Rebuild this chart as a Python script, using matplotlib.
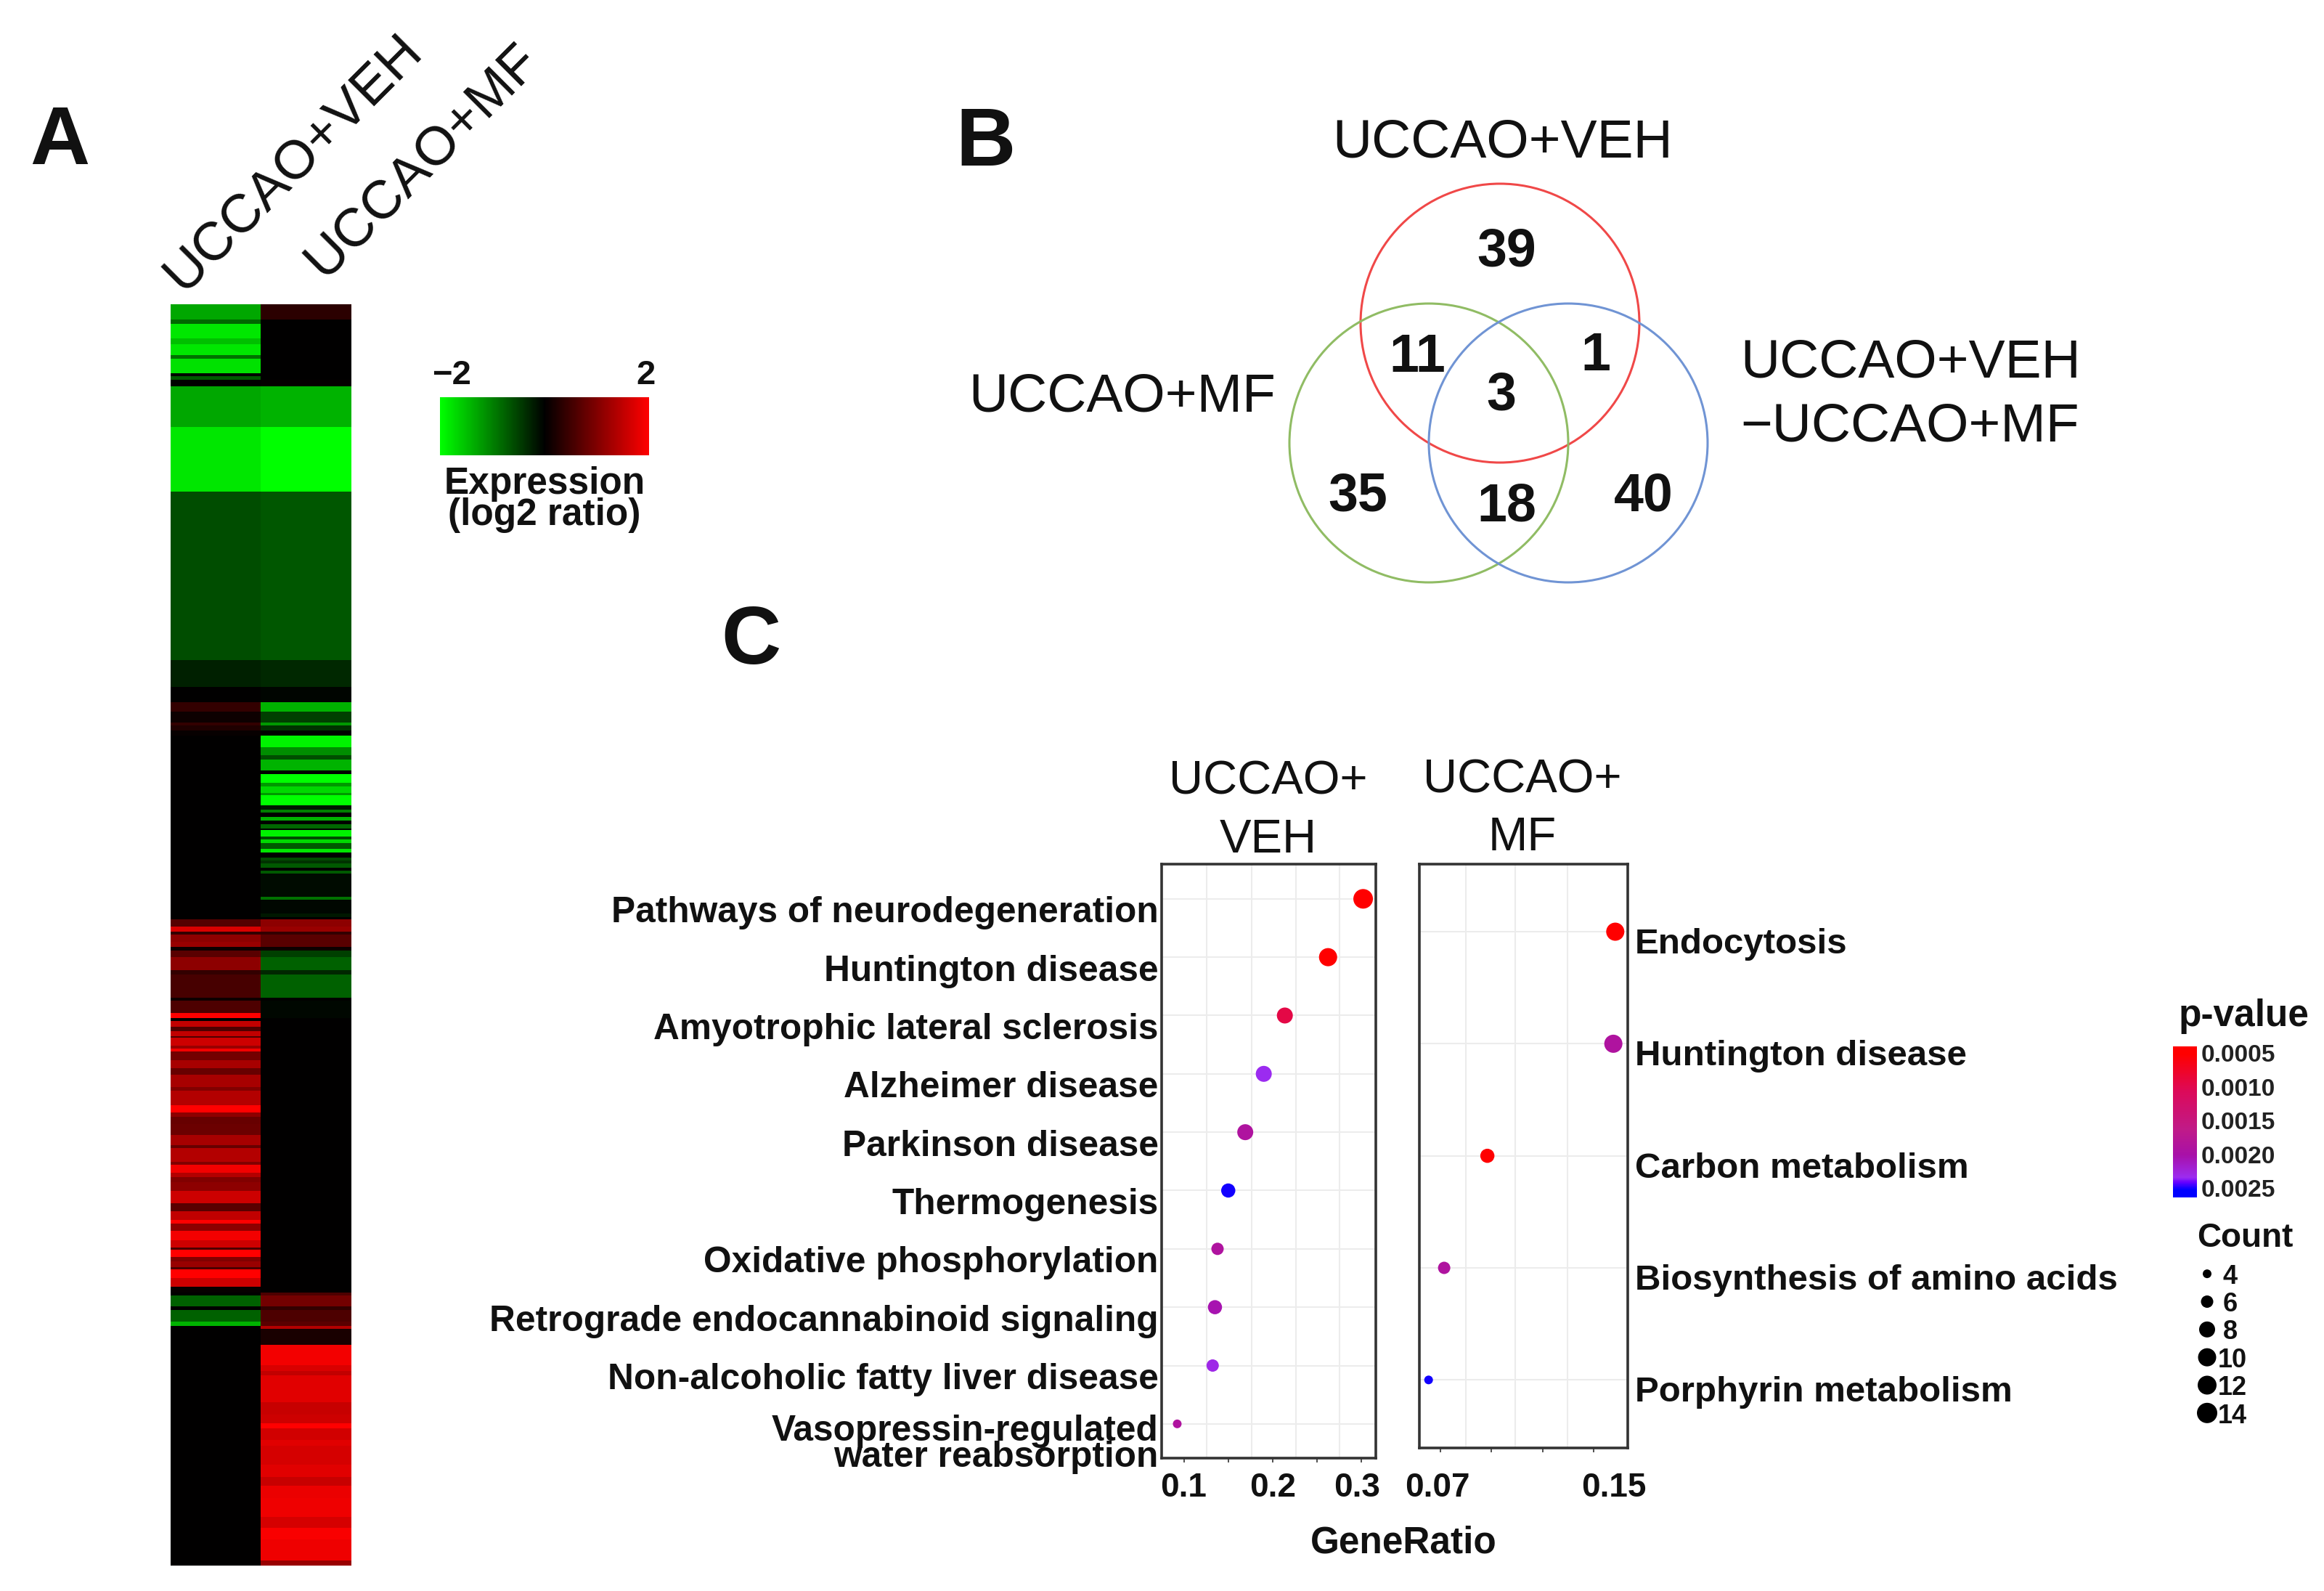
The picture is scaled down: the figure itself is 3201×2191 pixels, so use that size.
import numpy as np
import matplotlib
matplotlib.use('Agg')
import matplotlib.pyplot as plt
from matplotlib.colors import LinearSegmentedColormap, Normalize
from matplotlib.cm import ScalarMappable
from matplotlib.patches import Circle
from matplotlib.transforms import ScaledTranslation

plt.rcParams['font.family'] = ['Liberation Sans', 'DejaVu Sans']

W, H = 3201, 2191

# heatmap, read top to bottom: row count of each band, then log2 ratio / 2 per column
hm_runs = [37, 10, 35, 15, 25, 10, 35, 7, 8, 15, 98, 157, 405, 65, 37, 23, 25, 8, 12, 12, 28, 20, 10, 25, 10,
           20, 10, 15, 5, 25, 10, 8, 10, 8, 9, 10, 5, 15, 7, 8, 15, 8, 12, 7, 8, 10, 7, 8, 55, 8, 32, 10, 5,
           17, 13, 7, 16, 12, 10, 16, 30, 12, 55, 7, 30, 12, 8,
           13, 10, 13, 4, 18, 8, 7, 20, 20, 15, 30, 10, 15, 20, 17, 10, 18, 25, 25, 7, 33, 7, 20, 11, 12,
           20, 30, 20, 20, 10, 17, 23, 17, 5, 18, 10, 15, 5, 20, 22,
           13, 7, 26, 9, 28, 10, 7, 40, 48, 15, 10, 65, 30, 20, 12, 28, 15, 45, 30, 20, 30, 45, 27, 28, 50, 13]
hm_veh = [-.65, -.4, -.9, -.75, -.9, -.45, -.88, 0, -.35, 0, -.65, -.9, -.3, -.13, 0, .2, .05, .2, .12, .03, 0, 0, 0, 0, 0,
          0, 0, 0, 0, 0, 0, 0, 0, 0, 0, 0, 0, 0, 0, 0, 0, 0, 0, 0, 0, 0, 0, 0, 0, 0, 0, 0, 0,
          .33, .85, .2, .55, .6, .05, .35, .55, .2, .28, .05, .3, 1.0, 0,
          .75, .3, .75, .3, .8, .6, .95, .45, .65, .4, .65, .5, .7, .7, 1.0, .55, .4, .42, .65, .4, .7, .5, .95, .7, .5,
          .55, .8, .35, .75, 1.0, .55, .95, .8, .3, 1.0, .5, .6, .3, 1.0, .8,
          .03, 0, -.38, 0, -.38, -.7, 0, 0, 0, 0, 0, 0, 0, 0, 0, 0, 0, 0, 0, 0, 0, 0, 0, 0, 0, 0]
hm_mf = [.17, 0, 0, 0, 0, 0, 0, 0, 0, .02, -.7, -1.0, -.34, -.16, -.02, -.7, -.25, -.6, -.2, 0, -.95, -.55, -.3, -.7, 0,
         -1.0, -.6, -.85, -.6, -1.0, -.1, -.5, 0, -.7, 0, -.4, 0, -.95, -.3, -.85, -.35, -.9, 0, -.3, -.2, -.35, 0, -.35, -.04, -.45, -.03, -.1, 0,
         .55, .6, .2, .35, .35, .05, -.25, -.38, -.15, -.38, 0, -.03, -.03, 0,
         0, 0, 0, 0, 0, 0, 0, 0, 0, 0, 0, 0, 0, 0, 0, 0, 0, 0, 0, 0, 0, 0, 0, 0, 0,
         0, 0, 0, 0, 0, 0, 0, 0, 0, 0, 0, 0, 0, 0, 0,
         0, .3, .45, .2, .3, .35, .7, .1, .95, .85, .75, .88, .78, .8, 1.0, .82, .88, .83, .88, .78, .92, .93, .83, .97, .93, .6]

# venn
venn_names = ['UCCAO+VEH', 'UCCAO+MF', 'UCCAO+VEH\n\u2212UCCAO+MF']
venn_counts = [39, 11, 1, 3, 35, 18, 40]
venn_count_xy = [(2075, 347), (1952, 492), (2198, 490), (2068, 545), (1870, 684), (2075, 698), (2264, 684)]
venn_centers = [(2066, 445), (1968, 610), (2160, 610)]
venn_colors = ['#f04848', '#90bc64', '#7094d4']

# dot plots
veh_terms = ['Pathways of neurodegeneration', 'Huntington disease', 'Amyotrophic lateral sclerosis',
             'Alzheimer disease', 'Parkinson disease', 'Thermogenesis', 'Oxidative phosphorylation',
             'Retrograde endocannabinoid signaling', 'Non-alcoholic fatty liver disease',
             'Vasopressin-regulated\nwater reabsorption']
veh_ratio = [.302, .2624, .2136, .1898, .1689, .1497, .1376, .1347, .1321, .0921]
veh_count = [13, 10, 8, 8, 8, 7, 6, 7, 6, 4]
veh_p = [.0005, .0005, .00095, .00235, .0019, .0025, .0019, .00205, .0023, .0019]

mf_terms = ['Endocytosis', 'Huntington disease', 'Carbon metabolism', 'Biosynthesis of amino acids',
            'Porphyrin metabolism']
mf_ratio = [.1612, .1602, .0946, .0721, .0640]
mf_count = [10, 10, 7, 6, 4]
mf_p = [.0005, .0019, .0005, .0019, .0025]

legend_counts = [4, 6, 8, 10, 12, 14]
legend_diam = [12, 17, 22, 25, 26, 28]
p_ticks = [.0005, .0010, .0015, .0020, .0025]

fig = plt.figure(figsize=(W / 100, H / 100), dpi=100, facecolor='white')


def axpx(x0, y0, x1, y1):
    return fig.add_axes([x0 / W, 1 - y1 / H, (x1 - x0) / W, (y1 - y0) / H])


def txt(x, y, s, size, bold=False, ha='center', va='center', **kw):
    fig.text(x / W, 1 - y / H, s, fontsize=size, fontweight='bold' if bold else 'normal',
             ha=ha, va=va, color='#111111', **kw)


def marker_s(counts):
    d = np.interp(counts, legend_counts, legend_diam)
    return (d * .72) ** 2


# A
gr = LinearSegmentedColormap.from_list('gbr', ['#00ff00', '#000000', '#ff0000'])
hm = np.column_stack([np.repeat(hm_veh, hm_runs), np.repeat(hm_mf, hm_runs)])
ax = axpx(235, 419, 484, 2156)
ax.imshow(hm, cmap=gr, vmin=-1, vmax=1, aspect='auto', interpolation='nearest')
ax.axis('off')

cax = axpx(606, 547, 894, 627)
cb = fig.colorbar(ScalarMappable(Normalize(-2, 2), gr), cax=cax, orientation='horizontal')
cb.outline.set_visible(False)
cb.set_ticks([])

txt(622, 517, '\u22122', 34, True)
txt(889, 517, '2', 34, True)
txt(750, 666, 'Expression', 37, True)
txt(750, 710, '(log2 ratio)', 37, True)
txt(82, 197, 'A', 82, True)
txt(1358, 199, 'B', 82, True)
txt(1034, 885, 'C', 82, True)
txt(404, 224, 'UCCAO+VEH', 54, rotation=45, rotation_mode='anchor')
txt(582, 221, 'UCCAO+MF', 54, rotation=45, rotation_mode='anchor')

# B
over = axpx(0, 0, W, H)
over.set_xlim(0, W)
over.set_ylim(H, 0)
over.axis('off')
over.patch.set_alpha(0)
for c, col in zip(venn_centers, venn_colors):
    over.add_patch(Circle(c, 192, fill=False, ec=col, lw=2.2))
for n, (x, y) in zip(venn_counts, venn_count_xy):
    over.text(x, y, str(n), fontsize=53, fontweight='bold', ha='center', va='center', color='#111111')
txt(2070, 197, venn_names[0], 54)
txt(1546, 547, venn_names[1], 54)
txt(2397, 544, venn_names[2], 54, ha='left', linespacing=1.36)

# C
rb = LinearSegmentedColormap.from_list('rb', [(0, '#ff0000'), (.05, '#ff0000'), (.3, '#dc0a5a'),
                                              (.55, '#c01a88'), (.72, '#a810a8'), (.87, '#9c2cf0'),
                                              (.9, '#6600ff'), (.95, '#0000ff'), (1, '#0000ff')])
pnorm = Normalize(.0004, .00264)


def dots(ax, ratio, count, p, xlim, ylim, xgrid, xticks, xlabels, label_dx, pad):
    y = np.arange(len(ratio))
    ax.set_xlim(*xlim)
    ax.set_ylim(*ylim)
    ax.set_xticks(xgrid, minor=True)
    ax.set_yticks(y)
    ax.set_yticklabels([])
    ax.grid(True, which='minor', axis='x', color='#ececec', lw=1.5)
    ax.grid(True, which='major', axis='y', color='#ececec', lw=1.5)
    ax.set_axisbelow(True)
    ax.scatter(ratio, y, s=marker_s(count), c=p, cmap=rb, norm=pnorm, linewidths=0, zorder=3)
    ax.tick_params(axis='y', length=0)
    ax.tick_params(axis='x', which='minor', length=0)
    ax.tick_params(axis='x', which='major', length=4, width=1.2, color='#333333', pad=pad, labelsize=33)
    ax.set_xticks(xticks)
    ax.set_xticklabels(xlabels, fontweight='bold', color='#111111')
    for lab, dx in zip(ax.get_xticklabels(), label_dx):
        lab.set_transform(lab.get_transform() + ScaledTranslation(dx / 72, 0, fig.dpi_scale_trans))
    for s in ax.spines.values():
        s.set_linewidth(2.6)
        s.set_color('#333333')


ax1 = axpx(1600, 1190, 1895, 2008)
dots(ax1, veh_ratio, veh_count, veh_p, (.0745, .3163), (9.587, -.595), [.125, .176, .226, .275],
     [.1, .15, .2, .25, .3], ['0.1', '', '0.2', '', '0.3'], [-1, 0, 0, 0, -4], 10)
for i, t in enumerate(veh_terms):
    ax1.annotate(t, (0, i), xycoords=('axes fraction', 'data'), xytext=(-3, -14 if i < 9 else -20),
                 textcoords='offset points', ha='right', va='center', fontsize=35.7, fontweight='bold',
                 linespacing=.72, color='#111111')

ax2 = axpx(1955, 1190, 2242, 1994)
dots(ax2, mf_ratio, mf_count, mf_p, (.0592, .1677), (4.607, -.603), [.0835, .109, .1363],
     [.07, .0967, .1233, .15], ['0.07', '', '', '0.15'], [-3, 0, 0, 20], 20)
for i, t in enumerate(mf_terms):
    ax2.annotate(t, (1, i), xycoords=('axes fraction', 'data'), xytext=(7, -12.5),
                 textcoords='offset points', ha='left', va='center', fontsize=35.5, fontweight='bold',
                 color='#111111')

txt(1747, 1077, 'UCCAO+', 47)
txt(1747, 1157, 'VEH', 47)
txt(2097, 1074, 'UCCAO+', 47)
txt(2097, 1154, 'MF', 47)
txt(1933, 2125, 'GeneRatio', 37, True)

# p-value legend
txt(3091, 1399, 'p-value', 37, True)
pax = axpx(2993, 1441, 3026, 1649)
pb = fig.colorbar(ScalarMappable(pnorm, rb), cax=pax)
pax.invert_yaxis()
pb.outline.set_visible(False)
pb.set_ticks(p_ticks)
pb.set_ticklabels(['%.4f' % v for v in p_ticks], fontweight='bold', color='#222222')
pax.tick_params(length=0, pad=4, labelsize=24)

# count legend
txt(3092, 1705, 'Count', 33, True)
lax = axpx(3010, 1735, 3110, 1965)
lax.set_xlim(0, 100)
lax.set_ylim(15, 3)
lax.axis('off')
lax.scatter(np.full(len(legend_counts), 30), legend_counts, s=marker_s(legend_counts), c='black', linewidths=0)
for c in legend_counts:
    lax.annotate(str(c), (30, c), xytext=(23 if c < 10 else 25, -3), textcoords='offset points',
                 ha='center', va='center', fontsize=26, fontweight='bold', color='#111111')

fig.savefig('out.png', dpi=100)
